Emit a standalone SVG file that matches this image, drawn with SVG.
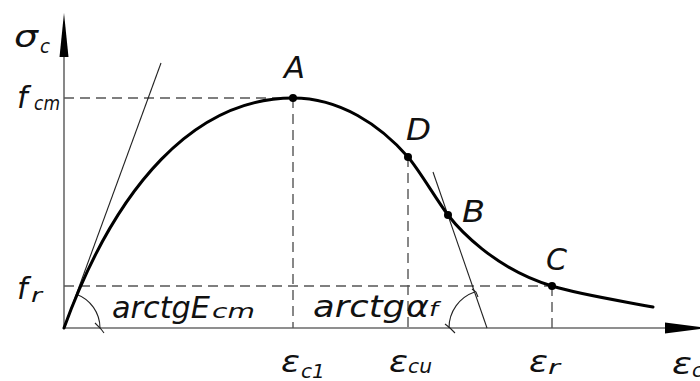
<svg xmlns="http://www.w3.org/2000/svg" width="700" height="381" viewBox="0 0 700 381">
<style>
.ax{stroke:#6a6a6a;stroke-width:1.6;fill:none}
.dash{stroke:#555;stroke-width:1.4;fill:none;stroke-dasharray:10 6}
.thin{stroke:#222;stroke-width:1.1;fill:none}
.curve{stroke:#000;stroke-width:3;fill:none;stroke-linecap:round}
.dot{fill:#000}
text{font-family:"DejaVu Sans","Liberation Sans",sans-serif;font-style:italic;fill:#111}
.big{font-size:30px}
.sub{font-size:19px}
</style>
<rect width="700" height="381" fill="#fff"/>
<g id="axes">
<line class="ax" x1="64" y1="329" x2="64" y2="56"/>
<polygon points="64,13 59.5,57 68.5,57" fill="#000"/>
<line class="ax" x1="64" y1="328" x2="666" y2="328"/>
<polygon points="665,322.5 665,333.5 707,328" fill="#000"/>
</g>
<g id="connectors">
<line class="dash" x1="64" y1="98" x2="293" y2="98"/>
<line class="dash" x1="293" y1="98" x2="293" y2="328"/>
<line class="dash" x1="64" y1="286" x2="552" y2="286"/>
<line class="dash" x1="408" y1="157" x2="408" y2="328"/>
<line class="dash" x1="552" y1="286" x2="552" y2="328"/>
<line class="thin" x1="64" y1="328" x2="161" y2="63"/>
<line class="thin" x1="433" y1="172" x2="487" y2="328"/>
<path class="thin" d="M76.3,294.2 A36,36 0 0 1 100,328"/>
<path class="thin" d="M95,323 L101,329 L104,333" stroke-width="1.6"/>
<path class="thin" d="M474.6,292 A38,38 0 0 0 449,328"/>
<path class="thin" d="M472,289 L476,292 L478,297" stroke-width="1.6"/>
<path class="thin" d="M445,324 L450,328 L455,333" stroke-width="1.6"/>
</g>
<g id="curve">
<path class="curve" d="M64,328 C116,185 195,98 293,98 C340,98 380,125 408,157 C420,171 436,199.4 448,215 C458,228 494,268.6 552,286 C582,295 622,301 653,307"/>
</g>
<g id="node-A"><circle class="dot" cx="293" cy="98" r="4"/><text class="big" x="284" y="78" textLength="21" lengthAdjust="spacingAndGlyphs">A</text></g>
<g id="node-D"><circle class="dot" cx="408" cy="157" r="4"/><text class="big" x="406" y="140" textLength="25" lengthAdjust="spacingAndGlyphs">D</text></g>
<g id="node-B"><circle class="dot" cx="448" cy="215" r="4"/><text class="big" x="462" y="222" textLength="23" lengthAdjust="spacingAndGlyphs">B</text></g>
<g id="node-C"><circle class="dot" cx="552" cy="286" r="4"/><text class="big" x="546" y="270" textLength="21" lengthAdjust="spacingAndGlyphs">C</text></g>
<g id="labels">
<text class="big" x="14" y="47" font-size="34" textLength="24" lengthAdjust="spacingAndGlyphs">σ</text>
<text class="sub" x="40" y="53" textLength="10" lengthAdjust="spacingAndGlyphs">c</text>
<text class="big" x="17" y="108" font-size="40">f</text>
<text class="sub" x="34" y="110" textLength="26" lengthAdjust="spacingAndGlyphs">cm</text>
<text class="big" x="17" y="299" font-size="38">f</text>
<text class="sub" x="31" y="302" textLength="11" lengthAdjust="spacingAndGlyphs">r</text>
<text class="big" x="112" y="318" textLength="98" lengthAdjust="spacingAndGlyphs">arctgE</text>
<text class="sub" x="212" y="318" textLength="43" lengthAdjust="spacingAndGlyphs">cm</text>
<text class="big" x="313" y="317" textLength="92" lengthAdjust="spacingAndGlyphs">arctg</text>
<text class="big" x="406" y="317" font-size="26" textLength="23" lengthAdjust="spacingAndGlyphs">α</text>
<text class="sub" x="429" y="316" font-size="16" textLength="9" lengthAdjust="spacingAndGlyphs">f</text>
<text class="big" x="281" y="372" textLength="19" lengthAdjust="spacingAndGlyphs">ε</text>
<text class="sub" x="301" y="378" textLength="24" lengthAdjust="spacingAndGlyphs">c1</text>
<text class="big" x="389" y="372" textLength="19" lengthAdjust="spacingAndGlyphs">ε</text>
<text class="sub" x="408" y="373" textLength="24" lengthAdjust="spacingAndGlyphs">cu</text>
<text class="big" x="529" y="372" textLength="19" lengthAdjust="spacingAndGlyphs">ε</text>
<text class="sub" x="548" y="374" textLength="12" lengthAdjust="spacingAndGlyphs">r</text>
<text class="big" x="672" y="374" textLength="20" lengthAdjust="spacingAndGlyphs">ε</text>
<text class="sub" x="692" y="377" textLength="11" lengthAdjust="spacingAndGlyphs">c</text>
</g>
</svg>
